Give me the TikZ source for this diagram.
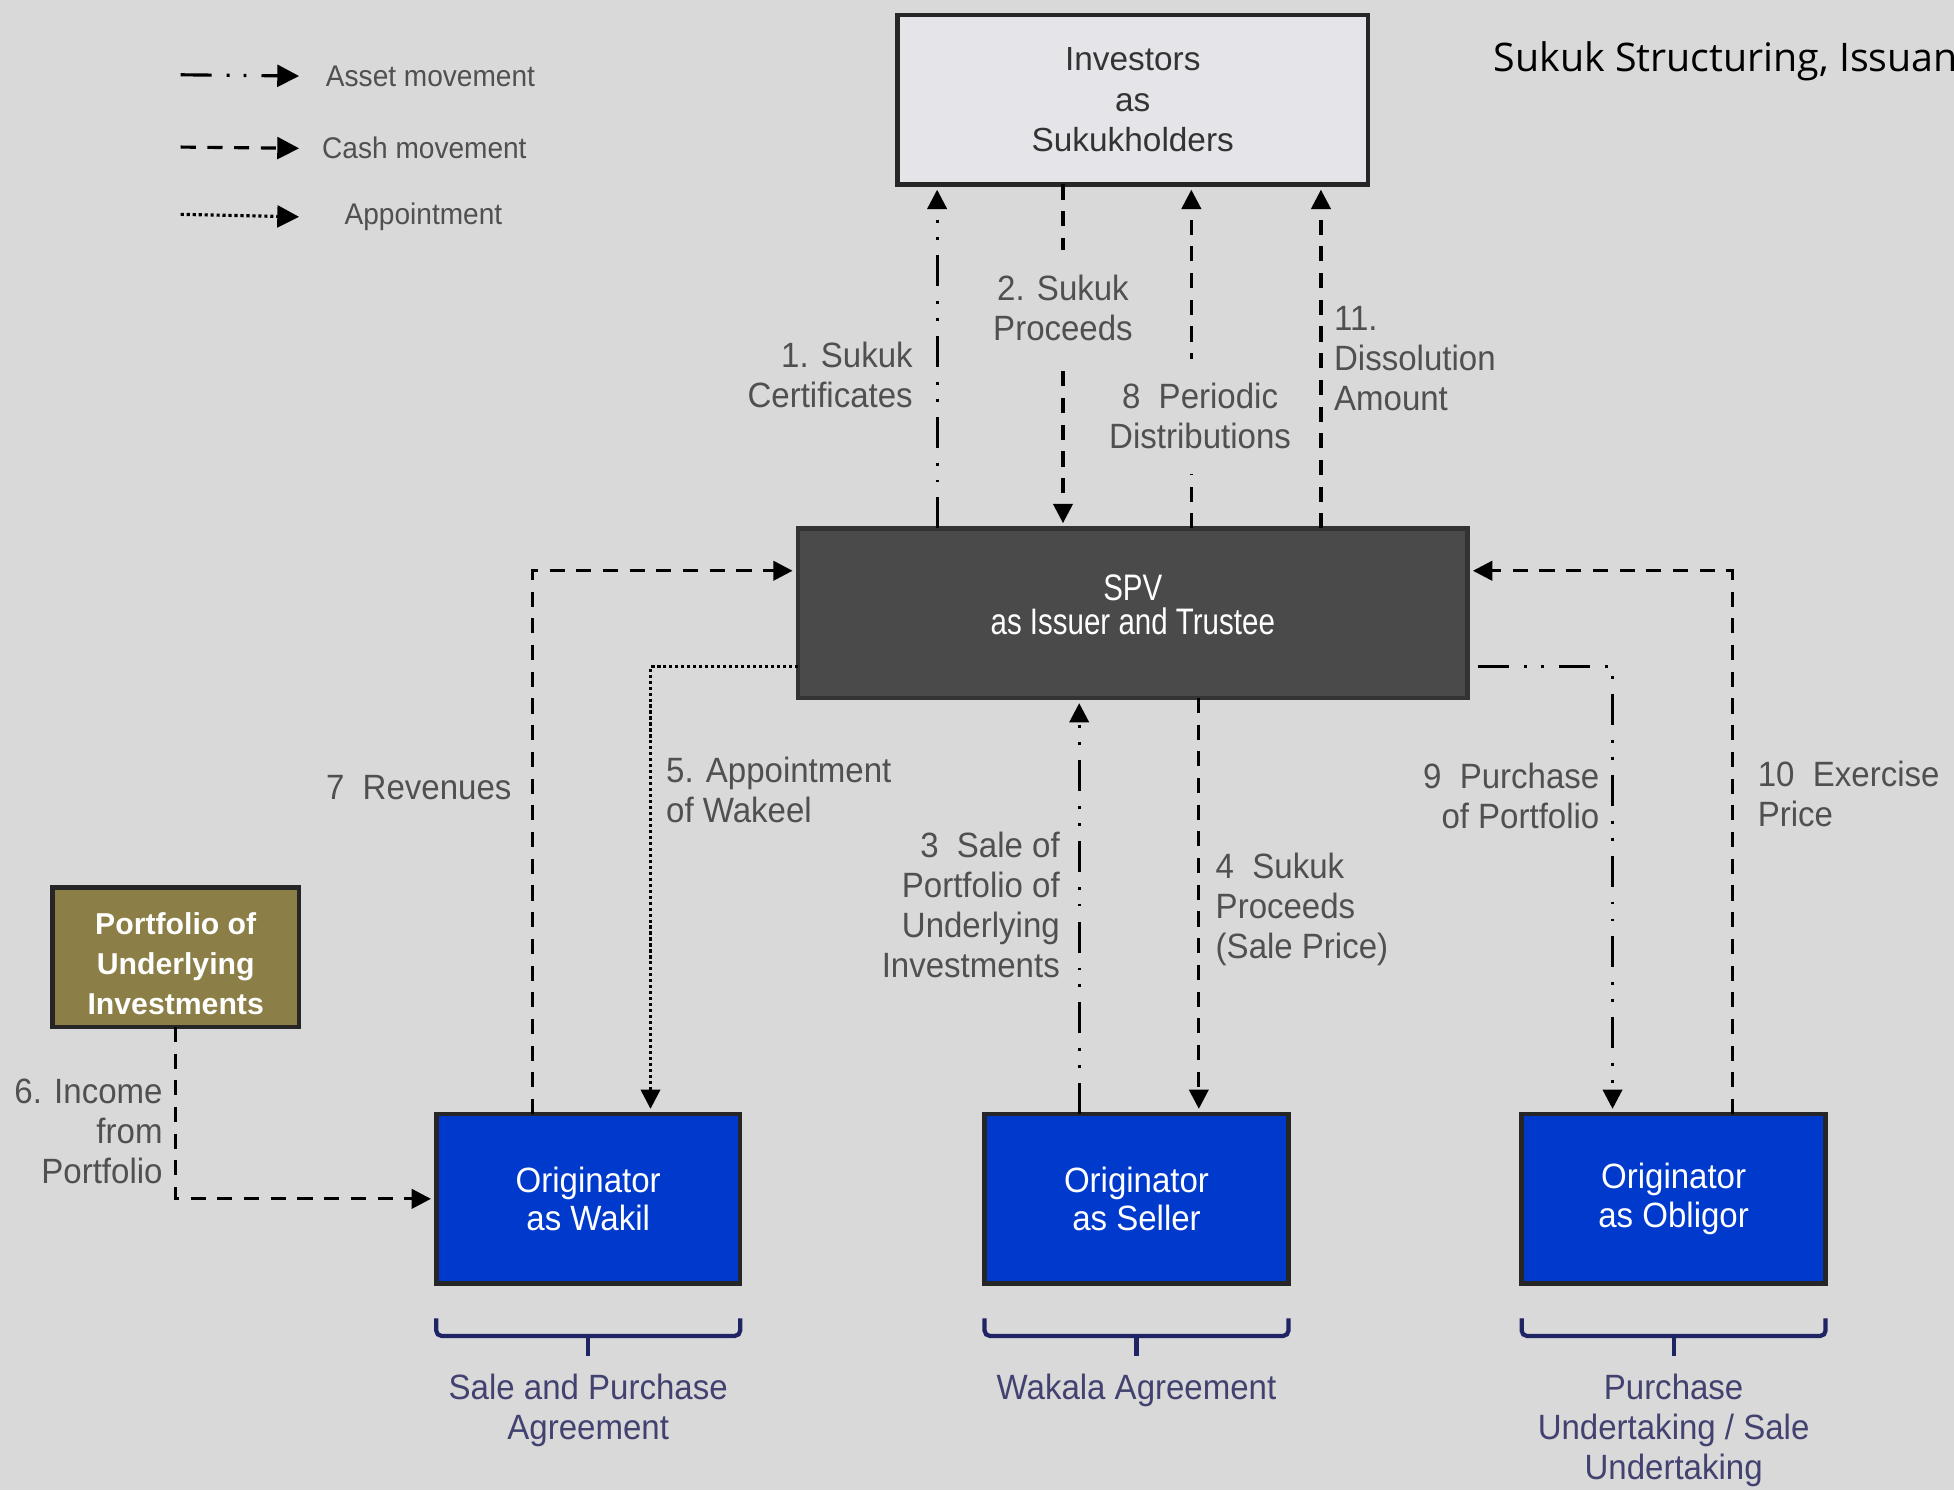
\documentclass[tikz,border=0pt]{standalone}
\usepackage{fontspec}
\setmainfont{Liberation Sans}
\newfontfamily\lblfont{Liberation Sans}[FakeStretch=0.94]
\newfontfamily\spvfont{Liberation Sans}[FakeStretch=0.8]
\newfontfamily\titlefont{Open Sans}
\usepackage{xcolor}
\usetikzlibrary{arrows.meta,positioning,calc}

\definecolor{bggray}{RGB}{217,217,217}
\definecolor{invfill}{RGB}{228,228,233}
\definecolor{spvfill}{RGB}{74,74,74}
\definecolor{portfill}{RGB}{139,126,70}
\definecolor{origblue}{RGB}{0,58,204}
\definecolor{txtgray}{RGB}{80,80,80}
\definecolor{bracenavy}{RGB}{30,36,100}
\definecolor{agreetxt}{RGB}{66,66,112}

\begin{document}
\begin{tikzpicture}[x=0.01246cm,y=-0.01246cm,
  box/.style={draw=black!85,line width=1.3pt,inner sep=0pt,outer sep=0pt,align=center},
  origbox/.style={box,fill=origblue,text=white,minimum width=3.04cm,minimum height=1.695cm,
    font=\lblfont\fontsize{10}{11}\selectfont},
  lbl/.style={text=txtgray,font=\lblfont\fontsize{10}{11.4}\selectfont,inner sep=0pt},
  onlbl/.style={lbl,fill=bggray,inner xsep=2pt,inner ysep=7pt,align=center},
  leg/.style={lbl,font=\lblfont\fontsize{8.5}{10}\selectfont,anchor=west},
  flow/.style={line width=0.9pt,-{Triangle[length=5.5pt,width=5.5pt]},shorten >=1.5pt},
  asset/.style={flow,dash pattern=on 8.8pt off 4.3pt on 0.8pt off 4pt on 0.8pt off 4.3pt},
  cash/.style={flow,dash pattern=on 4.3pt off 3.3pt},
  appoint/.style={flow,dash pattern=on 0.9pt off 0.8pt},
  legtip/.style={-{Triangle[length=6.2pt,width=6.2pt]},shorten >=0pt},
  bracket/.style={bracenavy,line width=1.2pt,rounded corners=1.5pt},
  agree/.style={text=agreetxt,font=\lblfont\fontsize{10}{11.4}\selectfont,align=center,anchor=north,inner sep=0pt}]

% background and page size
\fill[bggray] (0,0) rectangle (1568,1196);
\useasboundingbox (0,0) rectangle (1568,1196);

\node[font=\titlefont\fontsize{11.2}{13}\selectfont,anchor=base west,inner sep=0pt] (title) at (1198,57) {Sukuk Structuring, Issuan};

% legend
\node[leg] (lgasset) at (261,61) {Asset movement};
\node[leg] (lgcash) at (258,119) {Cash movement};
\node[leg] (lgappoint) at (276,174) {Appointment};
\coordinate (lgA) at (145,60);
\coordinate (lgC) at (145,118);
\coordinate (lgP) at (145,172);
\draw[asset,legtip] (lgA) -- (lgasset.west -| 240,0);
\draw[cash,legtip] (lgC) -- (lgcash.west -| 240,0);
\draw[appoint,legtip] (lgP) -- (lgappoint.west -| 240,0);

% parties
\node[box,fill=invfill,text=black!80,minimum width=4.71cm,minimum height=1.695cm,
  font=\fontsize{9.5}{11.4}\selectfont] (inv) at (909,80) {Investors\\as\\Sukukholders};
\node[box,fill=spvfill,draw=black!80,text=white,minimum width=6.7cm,minimum height=1.695cm,
  font=\spvfont\fontsize{10.5}{9.6}\selectfont] (spv) at (909,492) {SPV\\as Issuer and Trustee\rule[-5pt]{0pt}{0pt}};
\node[box,fill=portfill,text=white,minimum width=2.467cm,minimum height=1.396cm,
  font=\bfseries\fontsize{8.6}{11.4}\selectfont] (port) at (141,768) {\rule{0pt}{10pt}Portfolio of\\Underlying\\Investments};
\node[origbox] (wakil) at (472,962) {Originator\\as Wakil};
\node[origbox] (seller) at (912,962) {Originator\\as Seller};
\node[origbox] (obligor) at (1343,962) {Originator\\as Obligor};

% investors <-> spv
\draw[asset] (spv.north -| 752,0) -- (inv.south -| 752,0);
\draw[cash] (inv.south -| 853,0) -- (spv.north -| 853,0);
\draw[cash] (spv.north -| 956,0) -- (inv.south -| 956,0);
\draw[cash] (spv.north -| 1060,0) -- (inv.south -| 1060,0);
\node[lbl,align=right,anchor=east] (l1) at (733,301) {1. Sukuk\\Certificates};
\node[onlbl] (l2) at (853,247) {2. Sukuk\\Proceeds};
\node[onlbl] (l8) at (963,334) {8\ \ Periodic\\Distributions};
\node[lbl,align=left,anchor=west] (l11) at (1070,288) {11.\\Dissolution\\Amount};

% wakil side
\draw[cash] (wakil.north -| 427,0) |- (spv.west |- 0,458);
\draw[appoint] (spv.west |- 0,535) -| (wakil.north -| 522,0);
\draw[cash] (port.south) |- (wakil.west);
\node[lbl,anchor=east] (l7) at (411,632) {7\ \ Revenues};
\node[lbl,align=left,anchor=west] (l5) at (534,634) {5. Appointment\\of Wakeel};
\node[lbl,align=right,anchor=east] (l6) at (131,908) {6. Income\\from\\Portfolio};

% seller
\draw[asset] (seller.north -| 866,0) -- (spv.south -| 866,0);
\draw[cash] (spv.south -| 962,0) -- (seller.north -| 962,0);
\node[lbl,align=right,anchor=east] (l3) at (851,726) {3\ \ Sale of\\Portfolio of\\Underlying\\Investments};
\node[lbl,align=left,anchor=west] (l4) at (975,730) {4\ \ Sukuk\\Proceeds\\(Sale Price)};

% obligor
\draw[asset,shorten <=3pt] (spv.east |- 0,535) -| (obligor.north -| 1294,0);
\draw[cash] (obligor.north -| 1390,0) |- (spv.east |- 0,458);
\node[lbl,align=right,anchor=east] (l9) at (1284,639) {9\ \ Purchase\\of Portfolio};
\node[lbl,align=left,anchor=west] (l10) at (1410,637) {10\ \ Exercise\\Price};

% agreements
\foreach \n in {wakil,seller,obligor}{
  \draw[bracket] (\n.south west |- 0,1058) -- (\n.south west |- 0,1072) -- (\n.south east |- 0,1072) -- (\n.south east |- 0,1058);
  \draw[bracket] (\n.south |- 0,1072) -- (\n.south |- 0,1088);
}
\node[agree] (agsale) at (wakil.south |- 0,1102) {Sale and Purchase\\Agreement};
\node[agree] (agwakala) at (seller.south |- 0,1102) {Wakala Agreement};
\node[agree] (agpurch) at (obligor.south |- 0,1102) {Purchase\\Undertaking / Sale\\Undertaking};
\end{tikzpicture}
\end{document}
